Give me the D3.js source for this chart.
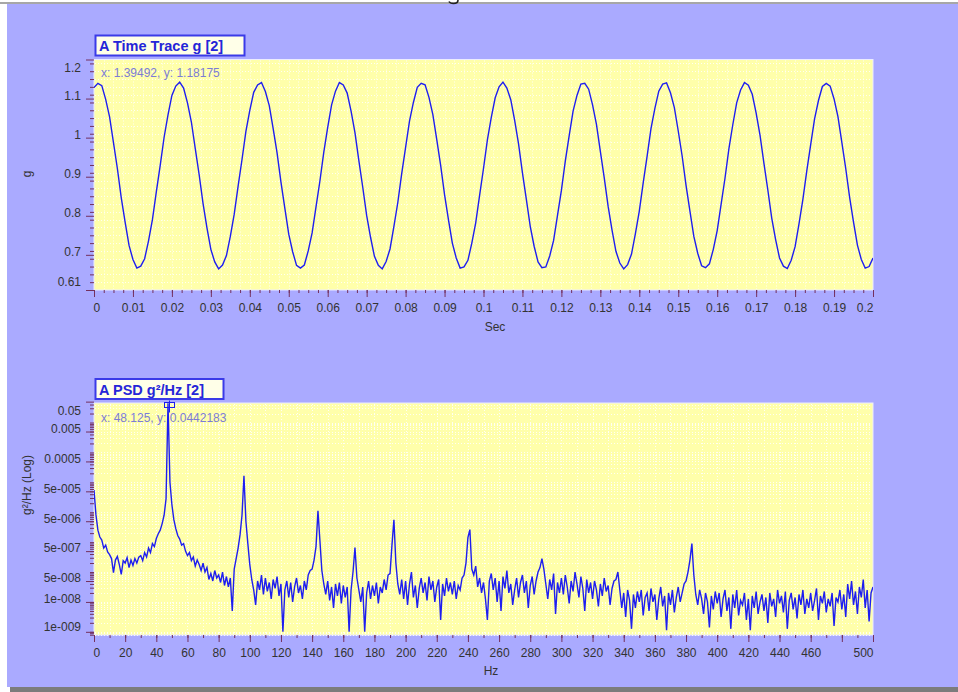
<!DOCTYPE html>
<html>
<head>
<meta charset="utf-8">
<script src="https://d3js.org/d3.v7.min.js"></script>
<style>
  body { margin: 0; background: #fff; }
  svg { display: block; }
</style>
</head>
<body>
<div id="container"></div>
<script>
//Width and height
var w = 958;
var h = 692;

//time trace, one sample per ms (g)
var traceStep = 0.001;
var traceG = [
    1.128, 1.139, 1.133, 1.098, 1.053, 0.987, 0.921, 0.846, 0.783, 0.724,
    0.688, 0.666, 0.671, 0.690, 0.736, 0.790, 0.861, 0.929, 1.001, 1.058,
    1.108, 1.132, 1.142, 1.127, 1.089, 1.040, 0.972, 0.905, 0.831, 0.769,
    0.714, 0.682, 0.664, 0.674, 0.698, 0.747, 0.804, 0.876, 0.944, 1.016,
    1.070, 1.116, 1.135, 1.141, 1.118, 1.082, 1.023, 0.961, 0.886, 0.819,
    0.753, 0.708, 0.673, 0.666, 0.674, 0.710, 0.756, 0.823, 0.889, 0.963,
    1.026, 1.084, 1.119, 1.141, 1.135, 1.114, 1.068, 1.013, 0.941, 0.873,
    0.801, 0.745, 0.696, 0.673, 0.664, 0.683, 0.715, 0.773, 0.834, 0.908,
    0.975, 1.042, 1.090, 1.129, 1.139, 1.135, 1.103, 1.059, 0.995, 0.929,
    0.854, 0.790, 0.730, 0.692, 0.666, 0.669, 0.686, 0.730, 0.782, 0.852,
    0.921, 0.994, 1.052, 1.102, 1.130, 1.142, 1.127, 1.097, 1.044, 0.984,
    0.910, 0.842, 0.773, 0.722, 0.682, 0.667, 0.669, 0.697, 0.737, 0.801,
    0.865, 0.940, 1.005, 1.068, 1.108, 1.137, 1.139, 1.124, 1.084, 1.034,
    0.965, 0.897, 0.824, 0.763, 0.709, 0.679, 0.664, 0.675, 0.702, 0.754,
    0.812, 0.884, 0.952, 1.023, 1.075, 1.119, 1.137, 1.140, 1.115, 1.077,
    1.017, 0.953, 0.878, 0.812, 0.747, 0.704, 0.672, 0.667, 0.677, 0.714,
    0.762, 0.829, 0.896, 0.971, 1.033, 1.089, 1.122, 1.141, 1.134, 1.111,
    1.063, 1.006, 0.934, 0.866, 0.794, 0.739, 0.692, 0.671, 0.665, 0.686,
    0.721, 0.779, 0.842, 0.915, 0.982, 1.048, 1.095, 1.131, 1.139, 1.132,
    1.099, 1.054, 0.988, 0.921, 0.847, 0.784, 0.725, 0.688, 0.666, 0.670,
    0.692
];

//PSD, one line per 1.25 Hz, log10 of g²/Hz
var psdStep = 1.25;
var psdLog10 = [
    -4.26, -5.09, -5.60, -5.83, -5.93, -6.20, -6.10, -6.33,
    -6.42, -6.55, -7.02, -6.60, -6.48, -6.75, -7.08, -6.62,
    -6.70, -6.52, -6.85, -6.60, -6.78, -6.55, -6.70, -6.50,
    -6.45, -6.62, -6.35, -6.50, -6.20, -6.35, -6.05, -6.15,
    -5.88, -5.72, -5.60, -5.38, -5.10, -4.55, -1.354, -4.00,
    -4.75, -5.25, -5.55, -5.78, -5.90, -6.10, -6.05, -6.30,
    -6.45, -6.35, -6.62, -6.50, -6.80, -6.60, -6.75, -6.95,
    -6.70, -7.00, -6.85, -7.25, -7.05, -7.30, -6.95, -7.20,
    -7.10, -7.35, -7.00, -7.45, -7.15, -7.50, -7.20, -8.30,
    -6.90, -6.55, -6.20, -5.75, -5.10, -3.78, -5.30, -6.05,
    -6.75, -7.25, -7.60, -8.10, -7.30, -7.60, -7.10, -7.75,
    -7.20, -7.65, -7.35, -7.90, -7.25, -7.55, -7.15, -7.80,
    -7.40, -9.00, -7.60, -7.30, -7.85, -7.35, -8.00, -7.50,
    -7.20, -7.70, -7.45, -7.90, -7.30, -7.60, -7.10, -6.95,
    -6.90, -6.60, -6.15, -4.95, -5.95, -6.95, -7.40, -7.75,
    -7.30, -7.95, -7.50, -8.20, -7.40, -7.80, -7.35, -8.05,
    -7.45, -7.85, -7.50, -9.00, -7.60, -7.00, -6.18, -7.20,
    -7.60, -8.00, -7.50, -9.00, -7.70, -7.30, -7.90, -7.45,
    -7.80, -7.35, -8.05, -7.50, -7.70, -7.25, -7.60, -7.10,
    -7.05, -6.10, -5.25, -6.70, -7.40, -7.75, -7.25, -7.90,
    -7.30, -8.10, -7.40, -7.00, -7.85, -7.45, -8.20, -7.55,
    -7.20, -7.70, -7.35, -7.95, -7.15, -7.60, -7.30, -8.00,
    -7.50, -7.25, -8.60, -7.40, -7.80, -7.20, -7.65, -7.35,
    -7.75, -7.30, -7.90, -7.45, -7.60, -7.20, -7.10, -6.70,
    -5.85, -5.58, -6.90, -7.10, -6.80, -7.50, -7.20, -7.70,
    -7.35, -7.90, -8.60, -7.30, -7.05, -7.60, -7.20, -8.00,
    -7.30, -8.30, -7.15, -7.55, -6.95, -7.70, -7.40, -8.10,
    -7.60, -7.20, -7.85, -7.35, -7.10, -7.70, -7.30, -8.20,
    -7.45, -7.15, -7.75, -7.30, -7.00, -6.85, -6.55, -6.90,
    -7.40, -7.90, -7.25, -7.60, -7.05, -8.40, -7.35, -7.70,
    -7.20, -7.75, -7.10, -7.50, -8.05, -7.30, -7.65, -7.00,
    -7.40, -7.85, -7.15, -7.55, -8.30, -7.25, -7.70, -7.35,
    -7.90, -7.30, -7.60, -8.15, -7.40, -7.80, -7.20, -7.65,
    -7.45, -8.10, -7.55, -7.30, -7.25, -7.00, -7.60, -8.20,
    -7.70, -8.50, -7.60, -7.95, -8.90, -7.75, -8.20, -7.65,
    -8.00, -7.60, -8.45, -7.85, -7.70, -8.30, -7.55, -8.00,
    -7.75, -8.60, -7.90, -7.50, -8.15, -7.80, -8.95, -7.70,
    -8.10, -7.60, -8.35, -7.85, -7.50, -8.00, -7.70, -7.40,
    -7.30, -7.00, -6.60, -6.05, -7.10, -7.75, -8.10, -7.60,
    -7.90, -8.40, -7.70, -8.00, -8.85, -7.80, -8.25, -7.65,
    -8.05, -7.70, -8.50, -7.90, -7.60, -8.30, -7.85, -8.90,
    -7.75, -8.20, -7.60, -8.45, -7.95, -8.10, -7.70, -8.60,
    -7.90, -8.95, -7.80, -8.20, -7.65, -8.40, -8.00, -7.75,
    -8.30, -7.85, -8.70, -7.70, -8.15, -7.90, -8.50, -7.60,
    -8.05, -7.80, -8.35, -7.65, -8.90, -7.95, -7.70, -8.25,
    -7.85, -8.55, -7.75, -8.10, -7.60, -8.40, -7.90, -8.20,
    -7.70, -8.30, -7.95, -7.55, -8.60, -7.80, -8.05, -7.65,
    -8.35, -7.90, -8.15, -7.70, -8.80, -7.85, -8.00, -7.60,
    -8.25, -7.75, -8.50, -7.40, -7.90, -7.30, -8.10, -7.65,
    -8.40, -7.50, -7.85, -7.25, -8.20, -7.60, -8.65, -7.70,
    -7.50
];

//tick values and labels
var secTicks = [0, 0.01, 0.02, 0.03, 0.04, 0.05, 0.06, 0.07, 0.08, 0.09, 0.1,
    0.11, 0.12, 0.13, 0.14, 0.15, 0.16, 0.17, 0.18, 0.19, 0.2];
var secTickLabels = ['0', '0.01', '0.02', '0.03', '0.04', '0.05', '0.06', '0.07', '0.08', '0.09', '0.1',
    '0.11', '0.12', '0.13', '0.14', '0.15', '0.16', '0.17', '0.18', '0.19', '0.2'];
var gTicks = [1.2, 1.1, 1, 0.9, 0.8, 0.7, 0.61];
var gTickLabels = ['1.2', '1.1', '1', '0.9', '0.8', '0.7', '0.61'];
var hzTicks = [0, 20, 40, 60, 80, 100, 120, 140, 160, 180, 200, 220, 240,
    260, 280, 300, 320, 340, 360, 380, 400, 420, 440, 460, 480, 500];
var hzTickLabels = ['0', '20', '40', '60', '80', '100', '120', '140', '160', '180', '200', '220', '240',
    '260', '280', '300', '320', '340', '360', '380', '400', '420', '440', '460', '', '500'];
var psdTicks = [0.05, 0.005, 0.0005, 5e-5, 5e-6, 5e-7, 5e-8, 1e-8, 1e-9];
var psdTickLabels = ['0.05', '0.005', '0.0005', '5e-005', '5e-006', '5e-007', '5e-008', '1e-008', '1e-009'];

//cursor readouts
var traceCursor = [1.39492, 1.18175];
var psdCursor = [48.125, 0.0442183];

var fontFamily = "'Liberation Sans', Arial, sans-serif";
var tickColor = '#74305e';
var lineColor = '#1e1ef0';

//scales
var xSec = d3.scaleLinear().domain([0, 0.2]).range([94, 873]);
var yG = d3.scaleLinear().domain([0.61, 1.2]).range([290, 59.5]);
var xHz = d3.scaleLinear().domain([0, 500]).range([94, 873]);
var yPsd = d3.scaleLog().domain([7.83e-10, 0.045]).range([635, 403]);

//create SVG
var svg = d3.select('#container')
    .append('svg')
    .attr('width', w)
    .attr('height', h)
    .style('background', '#fff')
    .attr('font-family', fontFamily);

//window frame
svg.append('rect')
    .attr('x', 7).attr('y', 4)
    .attr('width', w - 7).attr('height', 683)
    .attr('fill', '#aaaaff');
svg.append('line')
    .attr('x1', 0).attr('x2', w)
    .attr('y1', 3).attr('y2', 3)
    .attr('stroke', '#8a8a8a')
    .attr('stroke-width', 1.5);
svg.append('rect')
    .attr('x', 10).attr('y', 687)
    .attr('width', w - 10).attr('height', 5)
    .attr('fill', '#7c7c7c');
//hook of the window title glyph cut off by the top edge
svg.append('path')
    .attr('d', 'M458,0 Q458,3.5 453.5,3.5 Q450,3.5 449,1.5')
    .attr('fill', 'none')
    .attr('stroke', '#222')
    .attr('stroke-width', 1.6);

function styleAxis(g) {
    g.attr('font-size', 12).attr('font-family', fontFamily);
    g.select('.domain').remove();
    g.selectAll('line').attr('stroke', tickColor);
    g.selectAll('text').attr('fill', '#333');
}

//y labels sit a bit above their tick and stay inside the plot
function placeYLabels(g, scale, lo, hi) {
    g.selectAll('.tick text').attr('y', function(d) {
        var py = scale(d);
        var ty = Math.max(lo + 8, Math.min(hi - 8, py - 3));
        return ty - py;
    });
}

function placeXLabels(g) {
    var n = g.selectAll('.tick text').size();
    g.selectAll('.tick text')
        .attr('text-anchor', function(d, i) {
            return i === 0 ? 'start' : (i === n - 1 ? 'end' : 'middle');
        })
        .attr('x', function(d, i) { return i === 0 ? -1 : 0; });
}

function panel(x, y, title, titleWidth) {
    var x0 = x.range()[0], x1 = x.range()[1];
    var yTop = y.range()[1], yBot = y.range()[0];

    //plot background
    svg.append('rect')
        .attr('x', x0).attr('y', yTop)
        .attr('width', x1 - x0).attr('height', yBot - yTop)
        .attr('fill', '#ffffaa')
        .attr('stroke', '#ececff')
        .attr('stroke-width', 1);

    //title box
    svg.append('rect')
        .attr('x', x0 + 1.5).attr('y', yTop - 24)
        .attr('width', titleWidth).attr('height', 20)
        .attr('fill', '#ffffe8')
        .attr('stroke', '#3a3ae8')
        .attr('stroke-width', 2);
    svg.append('text')
        .attr('x', x0 + 5).attr('y', yTop - 8.5)
        .attr('font-size', 14.5)
        .attr('font-weight', 'bold')
        .attr('fill', '#2525d8')
        .text(title);
}

function grid(xVals, yVals, x, y) {
    var x0 = x.range()[0], x1 = x.range()[1];
    var yTop = y.range()[1], yBot = y.range()[0];
    var gg = svg.append('g')
        .attr('stroke', '#fff')
        .attr('stroke-width', 1)
        .attr('stroke-dasharray', '1,2')
        .attr('opacity', 0.85);
    gg.selectAll('.vx')
        .data(xVals)
        .enter()
        .append('line')
        .attr('x1', function(d) { return Math.round(x(d)) + 0.5; })
        .attr('x2', function(d) { return Math.round(x(d)) + 0.5; })
        .attr('y1', yTop + 1).attr('y2', yBot - 1);
    gg.selectAll('.hy')
        .data(yVals)
        .enter()
        .append('line')
        .attr('y1', function(d) { return Math.round(y(d)) + 0.5; })
        .attr('y2', function(d) { return Math.round(y(d)) + 0.5; })
        .attr('x1', x0 + 1).attr('x2', x1 - 1);
}

// ---------- top panel: time trace ----------
panel(xSec, yG, 'A Time Trace g [2]', 149);

var secMinor = d3.range(1, 80).map(function(i) { return i * 0.0025; });
var gMinor = d3.range(1, 30).map(function(i) { return 0.61 + i * 0.02; });
grid(secMinor, gMinor, xSec, yG);

svg.append('text')
    .attr('x', 101).attr('y', 77)
    .attr('font-size', 12)
    .attr('fill', '#7c7cd6')
    .text('x: ' + traceCursor[0] + ', y: ' + traceCursor[1]);

svg.append('defs').append('clipPath')
    .attr('id', 'clipTop')
    .append('rect')
    .attr('x', 94).attr('y', 59.5).attr('width', 779).attr('height', 230.5);

var traceLine = d3.line()
    .x(function(d, i) { return xSec(i * traceStep); })
    .y(function(d) { return yG(d); });

svg.append('path')
    .datum(traceG)
    .attr('clip-path', 'url(#clipTop)')
    .attr('fill', 'none')
    .attr('stroke', lineColor)
    .attr('stroke-width', 1.4)
    .attr('d', traceLine);

//axes
var gAxisMinor = svg.append('g')
    .attr('transform', 'translate(94,0)')
    .call(d3.axisLeft(yG).tickValues(gMinor).tickSize(4).tickFormat(''));
styleAxis(gAxisMinor);

var gAxis = svg.append('g')
    .attr('transform', 'translate(94,0)')
    .call(d3.axisLeft(yG).tickValues(gTicks).tickSize(8).tickPadding(5)
        .tickFormat(function(d, i) { return gTickLabels[i]; }));
styleAxis(gAxis);
placeYLabels(gAxis, yG, 59.5, 290);

var secAxisMinor = svg.append('g')
    .attr('transform', 'translate(0,290)')
    .call(d3.axisBottom(xSec).tickValues(secMinor).tickSize(3).tickFormat(''));
styleAxis(secAxisMinor);

var secAxis = svg.append('g')
    .attr('transform', 'translate(0,290)')
    .call(d3.axisBottom(xSec).tickValues(secTicks).tickSize(7).tickPadding(6)
        .tickFormat(function(d, i) { return secTickLabels[i]; }));
styleAxis(secAxis);
placeXLabels(secAxis);

svg.append('text')
    .attr('x', 495).attr('y', 331)
    .attr('text-anchor', 'middle')
    .attr('font-size', 12)
    .attr('fill', '#333')
    .text('Sec');

svg.append('text')
    .attr('transform', 'translate(31,174) rotate(-90)')
    .attr('text-anchor', 'middle')
    .attr('font-size', 12)
    .attr('fill', '#333')
    .text('g');

// ---------- bottom panel: PSD ----------
panel(xHz, yPsd, 'A PSD g²/Hz [2]', 128);

var hzMinor = d3.range(1, 50).map(function(i) { return i * 10; });
var psdMinor = [];
d3.range(-10, -1).forEach(function(k) {
    d3.range(1, 10).forEach(function(m) {
        var v = m * Math.pow(10, k);
        if (v > yPsd.domain()[0] && v < yPsd.domain()[1]) psdMinor.push(v);
    });
});
grid(hzMinor, psdMinor, xHz, yPsd);

svg.append('defs').append('clipPath')
    .attr('id', 'clipBot')
    .append('rect')
    .attr('x', 94).attr('y', 402).attr('width', 779).attr('height', 233);

var psdLine = d3.line()
    .x(function(d, i) { return xHz(i * psdStep); })
    .y(function(d) { return yPsd(Math.pow(10, d)); });

svg.append('path')
    .datum(psdLog10)
    .attr('clip-path', 'url(#clipBot)')
    .attr('fill', 'none')
    .attr('stroke', lineColor)
    .attr('stroke-width', 1.4)
    .attr('d', psdLine);

svg.append('text')
    .attr('x', 101).attr('y', 422)
    .attr('font-size', 12)
    .attr('fill', '#7c7cd6')
    .text('x: ' + psdCursor[0] + ', y: ' + psdCursor[1]);

//cursor marker on the peak
var cx = Math.round(xHz(psdCursor[0])) + 0.5;
var cy = Math.round(yPsd(psdCursor[1])) + 0.5;
var marker = svg.append('g')
    .attr('fill', 'none')
    .attr('stroke', lineColor)
    .attr('stroke-width', 1);
marker.append('rect')
    .attr('x', cx - 5).attr('y', cy - 1)
    .attr('width', 10).attr('height', 5);
marker.append('line')
    .attr('x1', cx).attr('x2', cx)
    .attr('y1', cy - 3).attr('y2', cy + 9);

//axes
var psdAxisMinor = svg.append('g')
    .attr('transform', 'translate(94,0)')
    .call(d3.axisLeft(yPsd).tickValues(psdMinor).tickSize(4).tickFormat(''));
styleAxis(psdAxisMinor);

var psdAxis = svg.append('g')
    .attr('transform', 'translate(94,0)')
    .call(d3.axisLeft(yPsd).tickValues(psdTicks).tickSize(8).tickPadding(5)
        .tickFormat(function(d, i) { return psdTickLabels[i]; }));
styleAxis(psdAxis);
placeYLabels(psdAxis, yPsd, 403, 635);

var hzAxisMinor = svg.append('g')
    .attr('transform', 'translate(0,635)')
    .call(d3.axisBottom(xHz).tickValues(hzMinor).tickSize(3).tickFormat(''));
styleAxis(hzAxisMinor);

var hzAxis = svg.append('g')
    .attr('transform', 'translate(0,635)')
    .call(d3.axisBottom(xHz).tickValues(hzTicks).tickSize(7).tickPadding(6)
        .tickFormat(function(d, i) { return hzTickLabels[i]; }));
styleAxis(hzAxis);
placeXLabels(hzAxis);

svg.append('text')
    .attr('x', 491).attr('y', 675)
    .attr('text-anchor', 'middle')
    .attr('font-size', 12)
    .attr('fill', '#333')
    .text('Hz');

svg.append('text')
    .attr('transform', 'translate(31,485) rotate(-90)')
    .attr('text-anchor', 'middle')
    .attr('font-size', 12)
    .attr('fill', '#333')
    .text('g²/Hz (Log)');
</script>
</body>
</html>
